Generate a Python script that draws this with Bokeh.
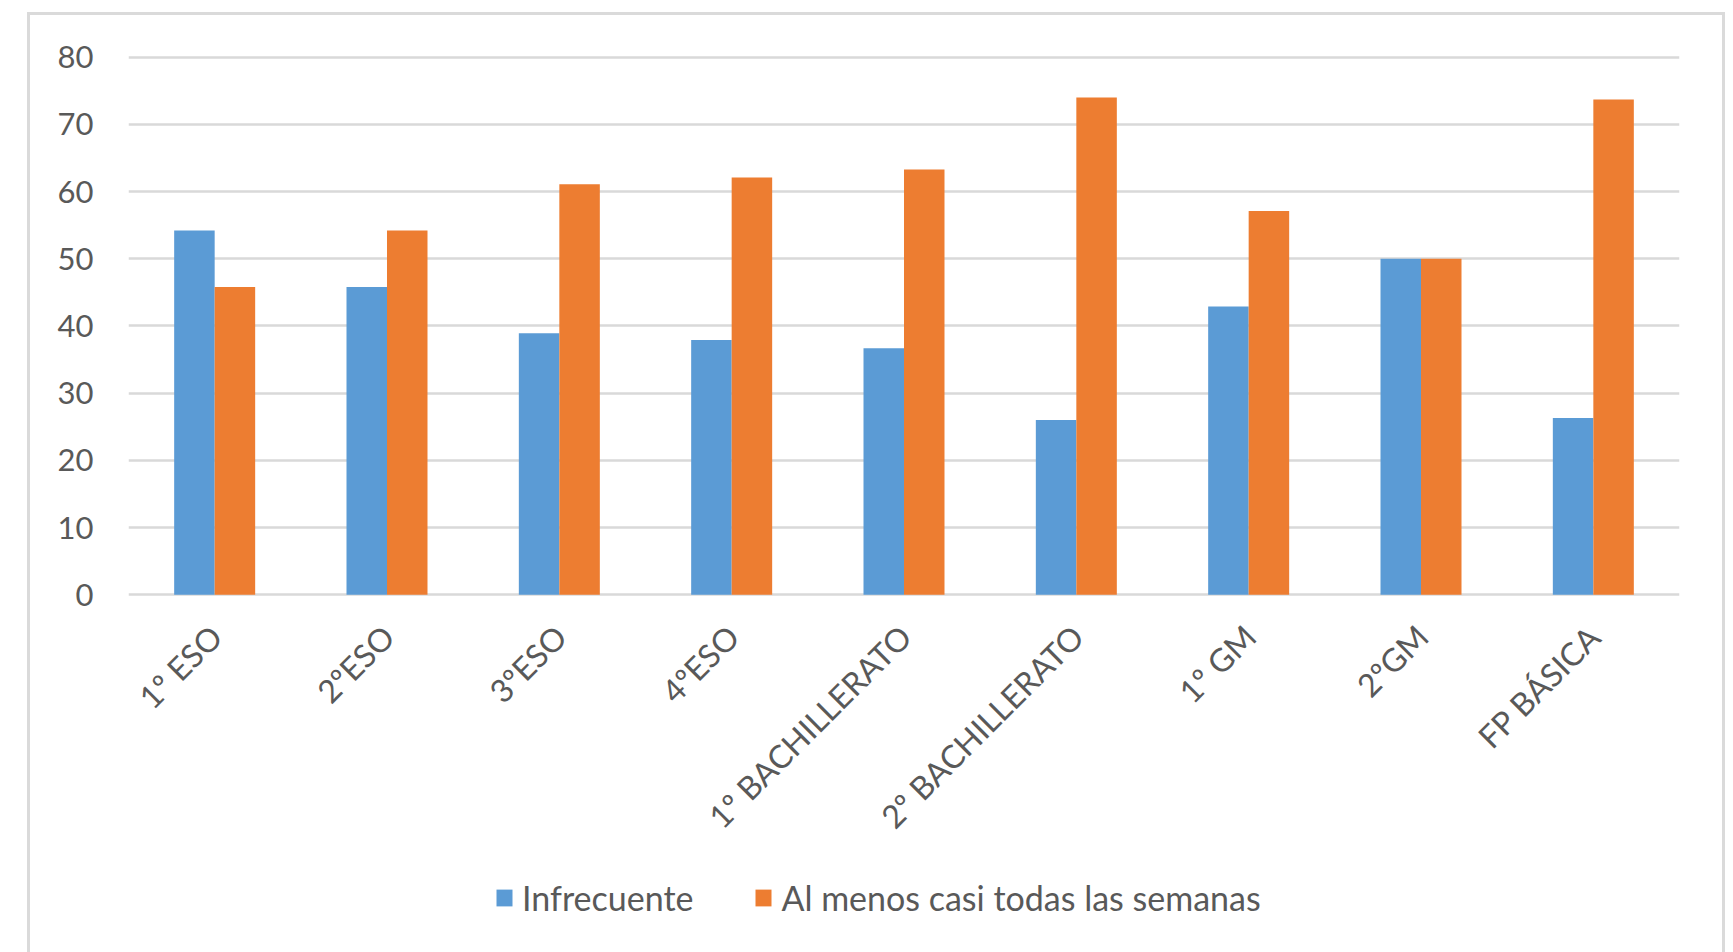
import math
from bokeh.plotting import figure
from bokeh.models import Range1d, FactorRange, Legend, LegendItem, ColumnDataSource, FixedTicker
from bokeh.core.properties import value
from bokeh.transform import dodge
from bokeh.embed import file_html
from bokeh.resources import INLINE

categories = ["1º ESO", "2ºESO", "3ºESO", "4ºESO", "1º BACHILLERATO",
              "2º BACHILLERATO", "1º GM", "2ºGM", "FP BÁSICA"]
infrecuente = [54.2, 45.8, 38.9, 37.9, 36.7, 26.0, 42.9, 50.0, 26.3]
al_menos = [45.8, 54.2, 61.1, 62.1, 63.3, 74.0, 57.1, 50.0, 73.7]
series_names = ["Infrecuente", "Al menos casi todas las semanas"]
y_ticks = [0, 10, 20, 30, 40, 50, 60, 70, 80]

BLUE = "#5B9BD5"
ORANGE = "#ED7D31"
TEXT = "#595959"
GRID = "#d9d9d9"
FONT = "Lato"

source = ColumnDataSource(dict(cat=categories, inf=infrecuente, alm=al_menos))

# the plotting frame also holds the area of the category labels and the legend
p = figure(x_range=FactorRange(*categories, range_padding=0),
           y_range=Range1d(-52.2, 80.25),
           frame_width=1551, frame_height=890,
           output_backend="svg", toolbar_location=None,
           min_border_left=98, min_border_right=43,
           min_border_top=40, min_border_bottom=7)

bw = 0.235
r1 = p.vbar(x=dodge("cat", -bw / 2, range=p.x_range), top="inf", width=bw,
            source=source, fill_color=BLUE, line_color=None)
r2 = p.vbar(x=dodge("cat", bw / 2, range=p.x_range), top="alm", width=bw,
            source=source, fill_color=ORANGE, line_color=None)

# category labels, rotated 45 degrees, ending under each group
p.text(x="cat", y=0, text="cat", source=source, angle=math.pi / 4,
       text_align="right", text_baseline="middle",
       x_offset=1, y_offset=36,
       text_font=value(FONT), text_font_size=value("32px"), text_color=TEXT)

p.outline_line_color = None
p.xaxis.visible = False
p.xgrid.grid_line_color = None
p.ygrid.grid_line_color = GRID
p.ygrid.grid_line_width = 2.5
p.yaxis.ticker = FixedTicker(ticks=y_ticks)

ya = p.yaxis[0]
ya.axis_line_color = None
ya.major_tick_line_color = None
ya.minor_tick_line_color = None
ya.major_label_text_font = FONT
ya.major_label_text_font_size = "31px"
ya.major_label_text_color = TEXT
ya.major_label_standoff = 29

legend = Legend(items=[LegendItem(label=series_names[0], renderers=[r1]),
                       LegendItem(label=series_names[1], renderers=[r2])],
                orientation="horizontal", location=(366, 27),
                label_text_font=FONT, label_text_font_size="34px",
                label_text_color=TEXT, glyph_width=20, glyph_height=21,
                label_standoff=8, spacing=60, border_line_color=None,
                background_fill_alpha=0, margin=0, padding=0)
p.add_layout(legend, "center")

p.styles = {"position": "relative", "left": "27px", "top": "12px",
            "border": "3px solid #dadada", "border-bottom": "none"}

open("out.html", "w").write(file_html(p, INLINE))
